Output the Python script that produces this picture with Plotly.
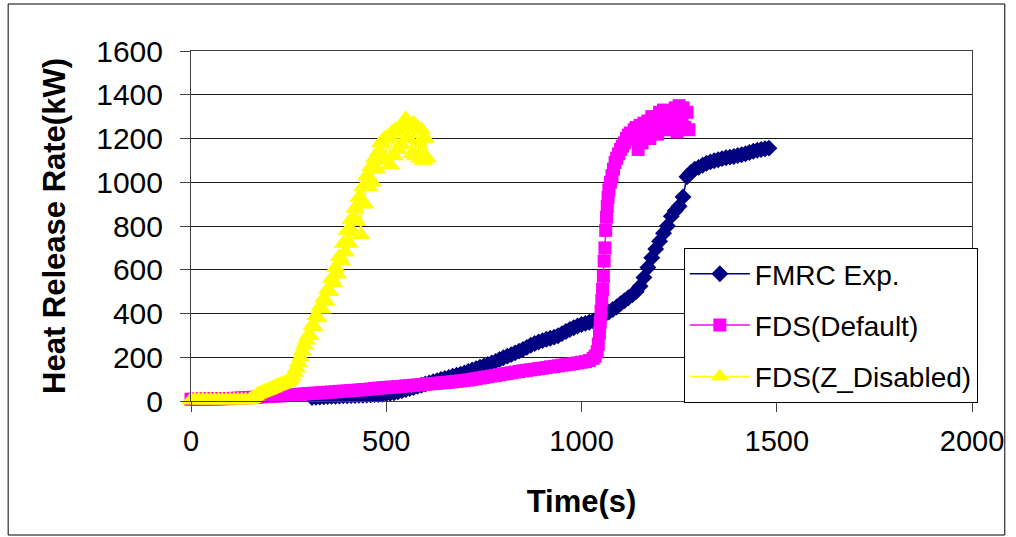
import plotly.graph_objects as go

# ---------------- data ----------------
fmrc_t = [310, 320, 330, 340, 350, 360, 370, 380, 390, 400, 410, 420, 430, 440, 450, 460, 470, 480, 490, 500,
          510, 520, 530, 540, 550, 560, 570, 580, 590, 600, 610, 620, 630, 640, 650, 660, 670, 680, 690, 700,
          710, 720, 730, 740, 750, 760, 770, 780, 790, 800, 810, 820, 830, 840, 850, 860, 870, 880, 890, 900,
          910, 920, 930, 940, 950, 960, 970, 980, 990, 1000, 1010, 1020, 1030, 1040, 1050, 1060, 1070, 1080,
          1090, 1100, 1110, 1120, 1130, 1140, 1150, 1160, 1170, 1180, 1190, 1200, 1210, 1220, 1230, 1240,
          1250, 1260, 1270, 1280, 1290, 1300, 1310, 1320, 1330, 1340, 1350, 1360, 1370, 1380, 1390, 1400,
          1410, 1420, 1430, 1440, 1450, 1460, 1470, 1480]
fmrc_hrr = [16, 17, 18, 19, 20, 21, 22, 23, 24, 24, 25, 25, 26, 26, 27, 28, 29, 30, 31, 33,
            35, 38, 42, 47, 52, 57, 62, 67, 72, 78, 83, 88, 93, 98, 103, 108, 113, 118, 123, 128,
            135, 142, 148, 154, 160, 167, 174, 181, 190, 198, 205, 212, 220, 228, 236, 245, 255, 263, 270, 276,
            282, 287, 292, 298, 308, 318, 327, 335, 343, 350, 355, 360, 366, 374, 383, 395, 407, 418,
            430, 445, 458, 472, 486, 500, 525, 565, 610, 655, 695, 730, 767, 800, 845, 870,
            890, 933, 1025, 1045, 1060, 1068, 1078, 1087, 1093, 1098, 1103, 1108, 1112, 1115, 1118, 1122,
            1126, 1130, 1136, 1142, 1146, 1150, 1153, 1156]

fds_def_t = [0, 10, 20, 30, 40, 50, 60, 70, 80, 90, 100, 110, 120, 130, 140, 150, 160, 170, 180, 190,
             200, 210, 220, 230, 240, 250, 260, 270, 280, 290, 300, 310, 320, 330, 340, 350, 360, 370, 380, 390,
             400, 410, 420, 430, 440, 450, 460, 470, 480, 490, 500, 510, 520, 530, 540, 550, 560, 570, 580, 590,
             600, 610, 620, 630, 640, 650, 660, 670, 680, 690, 700, 710, 720, 730, 740, 750, 760, 770, 780, 790,
             800, 810, 820, 830, 840, 850, 860, 870, 880, 890, 900, 910, 920, 930, 940, 950, 960, 970, 980, 990,
             1000, 1010, 1020, 1030, 1035, 1040, 1043, 1046, 1048, 1050, 1052, 1054, 1056, 1058, 1060, 1062,
             1064, 1066, 1068, 1070, 1074, 1078, 1082, 1086, 1090, 1095, 1100, 1105, 1110, 1115, 1120, 1125,
             1130, 1135, 1140, 1145, 1150, 1155, 1160, 1165, 1170, 1175, 1180, 1185, 1190, 1195, 1200, 1205,
             1210, 1215, 1220, 1225, 1230, 1235, 1240, 1245, 1250, 1255, 1260, 1265, 1270, 1275]
fds_def_hrr = [8, 8, 8, 9, 9, 9, 10, 10, 10, 11, 11, 12, 13, 14, 15, 16, 17, 18, 19, 20,
               21, 22, 23, 24, 25, 27, 28, 30, 31, 32, 34, 35, 36, 37, 38, 40, 41, 42, 44, 45,
               46, 48, 49, 50, 52, 53, 55, 57, 59, 60, 62, 63, 64, 66, 67, 69, 70, 72, 73, 75,
               77, 78, 80, 81, 83, 85, 86, 88, 90, 92, 94, 96, 99, 102, 105, 108, 111, 114, 117, 120,
               123, 126, 129, 132, 135, 138, 140, 143, 145, 148, 150, 153, 156, 158, 161, 164, 166, 168, 171, 174,
               177, 180, 185, 195, 205, 225, 260, 310, 360, 410, 460, 510, 570, 640, 700, 780,
               840, 890, 930, 965, 1000, 1030, 1060, 1090, 1110, 1130, 1150, 1165, 1180, 1200, 1215, 1225,
               1200, 1240, 1250, 1150, 1260, 1180, 1270, 1230, 1280, 1200, 1300, 1240, 1300, 1220, 1320, 1250,
               1330, 1270, 1320, 1240, 1310, 1280, 1340, 1230, 1350, 1280, 1340, 1250, 1320, 1240]

fds_z_t = [0, 10, 20, 30, 40, 50, 60, 70, 80, 90, 100, 110, 120, 130, 140, 150,
           155, 160, 165, 170, 175, 180, 185, 190, 195, 200, 205, 210, 215, 220, 225, 230, 235, 240, 245, 250,
           255, 260, 265, 270, 275, 280, 285, 290, 295, 300, 305, 310, 315, 320, 325, 330, 335, 340, 345, 350,
           355, 360, 365, 370, 375, 380, 385, 390, 395, 400, 405, 410, 415, 420, 425, 430, 435, 440, 445, 450,
           455, 460, 465, 470, 475, 480, 485, 490, 495, 500, 505, 510, 515, 520, 525, 530, 535, 540, 545, 550,
           555, 560, 565, 570, 575, 580, 585, 590, 595, 600, 605]
fds_z_hrr = [5, 5, 5, 5, 5, 5, 5, 5, 5, 5, 5, 5, 5, 5, 5, 5,
             10, 15, 22, 30, 34, 38, 41, 45, 48, 52, 56, 60, 64, 68, 71, 75, 78, 82, 86, 92,
             100, 112, 130, 150, 175, 200, 228, 255, 278, 300, 300, 345, 340, 390, 380, 430, 420, 470, 455, 510,
             500, 560, 540, 610, 580, 660, 640, 720, 680, 780, 720, 830, 770, 880, 820, 930, 760, 980, 900, 1030,
             980, 1070, 1000, 1110, 1060, 1140, 1180, 1120, 1200, 1100, 1210, 1080, 1230, 1120, 1240, 1150, 1250, 1170, 1270, 1290,
             1200, 1260, 1130, 1270, 1120, 1250, 1110, 1240, 1100, 1200, 1110]

x_ticks = [0, 500, 1000, 1500, 2000]
y_ticks = [0, 200, 400, 600, 800, 1000, 1200, 1400, 1600]

# ---------------- figure ----------------
fig = go.Figure()
fig.add_trace(go.Scatter(x=fmrc_t, y=fmrc_hrr, name="FMRC Exp.", mode="lines+markers",
                         legendgroup="a", cliponaxis=False,
                         line=dict(color="#000080", width=1.5),
                         marker=dict(symbol="diamond", size=13, color="#000080")))
fig.add_trace(go.Scatter(x=fds_def_t, y=fds_def_hrr, name="FDS(Default)", mode="lines+markers",
                         legendgroup="b", cliponaxis=False,
                         line=dict(color="#FF00FF", width=1.5),
                         marker=dict(symbol="square", size=13, color="#FF00FF")))
fig.add_trace(go.Scatter(x=fds_z_t, y=fds_z_hrr, name="FDS(Z_Disabled)", mode="lines+markers",
                         legendgroup="c", cliponaxis=False,
                         line=dict(color="#FFFF00", width=1.5),
                         marker=dict(symbol="triangle-up", size=17, color="#FFFF00")))

W, H = 1016, 537
L, R, T, B = 191, 39, 51, 136
pw, ph = W - L - R, H - T - B

def px_x(p):
    return (p - L) / pw

def px_y(p):
    return (H - B - p) / ph

fig.update_layout(
    width=W, height=H,
    margin=dict(l=L, r=R, t=T, b=B),
    paper_bgcolor="white", plot_bgcolor="white",
    font=dict(family="Arial, Liberation Sans, sans-serif", color="black"),
    showlegend=True,
    legend=dict(x=px_x(687), y=px_y(248), xanchor="left", yanchor="top",
                bgcolor="white", bordercolor="#000000", borderwidth=1,
                font=dict(size=28, family="Arial, Liberation Sans, sans-serif"),
                traceorder="grouped", tracegroupgap=12, itemwidth=60),
    xaxis=dict(range=[0, 2000], tickvals=x_ticks, showgrid=False, zeroline=False,
               showline=True, linecolor="#404040", linewidth=1, mirror=True,
               ticks="outside", ticklen=10, tickcolor="#404040", ticklabelstandoff=4,
               tickfont=dict(size=29),
               title=dict(text="<b>Time(s)</b>", font=dict(size=31), standoff=34)),
    yaxis=dict(range=[0, 1600], tickvals=y_ticks, showgrid=True, gridcolor="#1a1a1a", gridwidth=1,
               zeroline=False,
               showline=True, linecolor="#404040", linewidth=1, mirror=True,
               ticks="outside", ticklen=10, tickcolor="#404040", ticklabelstandoff=11,
               tickfont=dict(size=30),
               title=dict(text="<b>Heat Release Rate(kW)</b>", font=dict(size=31), standoff=21)),
    shapes=[dict(type="rect", xref="paper", yref="paper",
                 x0=px_x(7), x1=px_x(1010), y0=px_y(535), y1=px_y(4),
                 line=dict(color="#000000", width=1), fillcolor="rgba(0,0,0,0)", layer="below")],
)

fig.write_html("out.html")
